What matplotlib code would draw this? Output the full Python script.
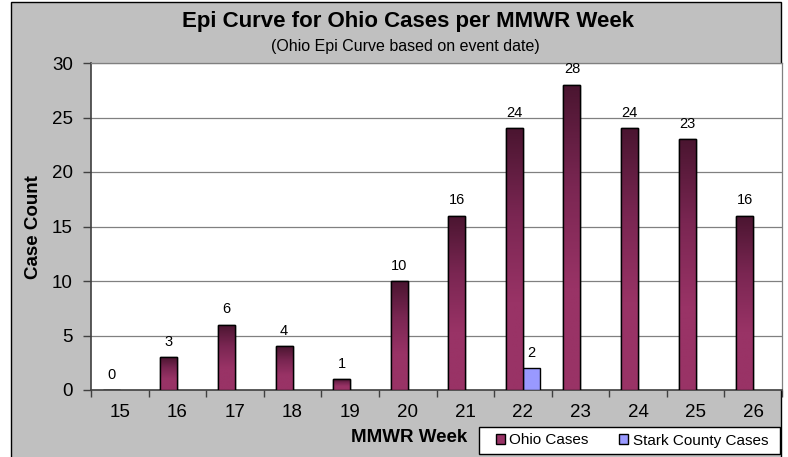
import numpy as np
import matplotlib
matplotlib.use("Agg")
import matplotlib.pyplot as plt
from matplotlib.patches import Rectangle
from matplotlib.colors import LinearSegmentedColormap

weeks = ["15", "16", "17", "18", "19", "20", "21", "22", "23", "24", "25", "26"]
ohio_cases = [0, 3, 6, 4, 1, 10, 16, 24, 28, 24, 23, 16]
stark_cases = [np.nan, np.nan, np.nan, np.nan, np.nan, np.nan, np.nan, 2, np.nan, np.nan, np.nan, np.nan]

plt.rcParams['font.family'] = ["Liberation Sans", "DejaVu Sans"]

W, H = 788, 457
fig = plt.figure(figsize=(W / 100, H / 100), dpi=100)
fig.patch.set_facecolor("white")
# chart frame
fig.patches.append(Rectangle((11 / W, -0.05), (781 - 11) / W, 1.05 - 2 / H,
                             transform=fig.transFigure, facecolor="#C0C0C0",
                             edgecolor="black", linewidth=1.0, zorder=-5))
# legend box
fig.patches.append(Rectangle((479 / W, 1 - 454 / H), 301 / W, 27 / H,
                             transform=fig.transFigure, facecolor="white",
                             edgecolor="black", linewidth=1.0, zorder=-4))

ax = fig.add_axes([91 / W, 1 - 390 / H, (782 - 91) / W, (390 - 63) / H])
ax.set_zorder(2)
ax.set_facecolor("white")
x = np.arange(len(weeks))
bw = 0.295

cmap = LinearSegmentedColormap.from_list("g", ["#4A1530", "#7A2652", "#993366", "#993366"])
grad = np.linspace(0, 1, 256).reshape(-1, 1)

ohio_bars = ax.bar(x - bw / 2, ohio_cases, bw, color="#993366", edgecolor="black",
                   linewidth=1.0, zorder=3, label="Ohio Cases")
for b, v in zip(ohio_bars, ohio_cases):
    if v <= 0:
        continue
    im = ax.imshow(grad, cmap=cmap, aspect="auto", origin="upper",
                   extent=(b.get_x(), b.get_x() + b.get_width(), 0, v), zorder=3.5)
    im.set_clip_path(b)
    ax.add_patch(Rectangle((b.get_x(), 0), b.get_width(), v, fill=False,
                           edgecolor="black", linewidth=1.0, zorder=4))
stark_bars = ax.bar(x + bw / 2, stark_cases, bw, color="#9999FF", edgecolor="black",
                    linewidth=1.0, zorder=3, label="Stark County Cases")
ax.set_xlim(-0.5, len(weeks) - 0.5)
ax.set_ylim(0, 30)

for xi, v in zip(x, ohio_cases):
    ax.annotate(str(v), (xi - bw / 2, v), xytext=(0, 6), textcoords="offset points",
                ha="center", va="bottom", fontsize=10.5, color="black", zorder=5)
for xi, v in zip(x, stark_cases):
    if not np.isnan(v):
        ax.annotate(str(int(v)), (xi + bw / 2, v), xytext=(0, 6), textcoords="offset points",
                    ha="center", va="bottom", fontsize=10.5, color="black", zorder=5)

ax.set_yticks(np.arange(0, 31, 5))
ax.yaxis.grid(True, color="#808080", linewidth=0.9, zorder=0)
ax.set_axisbelow(True)
ax.set_xticks(x)
ax.set_xticklabels(weeks, fontsize=13.5)
ax.set_xticks(np.arange(-0.5, len(weeks), 1), minor=True)
ax.tick_params(axis="x", which="major", length=0, pad=10)
ax.tick_params(axis="x", which="minor", length=5, width=1, color="#404040", direction="out")
ax.tick_params(axis="y", labelsize=13.5, length=6, width=1, color="#404040", pad=7)
for s in ["left", "bottom"]:
    ax.spines[s].set_color("#404040")
    ax.spines[s].set_linewidth(1.2)
for s in ["top", "right"]:
    ax.spines[s].set_color("#808080")
    ax.spines[s].set_linewidth(0.9)

fig.text(408 / W, 1 - 22 / H, "Epi Curve for Ohio Cases per MMWR Week", ha="center",
         va="center", fontsize=16, fontweight="bold")
fig.text(405 / W, 1 - 47 / H, "(Ohio Epi Curve based on event date)", ha="center",
         va="center", fontsize=11.5)
fig.text(33 / W, 1 - 227 / H, "Case Count", rotation=90, ha="center", va="center",
         fontsize=13.5, fontweight="bold")
fig.text(467 / W, 1 - 438 / H, "MMWR Week", ha="right", va="center",
         fontsize=13.5, fontweight="bold")

h1 = plt.Rectangle((0, 0), 1, 1, facecolor="#993366", edgecolor="black", linewidth=1.0)
h2 = plt.Rectangle((0, 0), 1, 1, facecolor="#9999FF", edgecolor="black", linewidth=1.0)
leg = fig.legend([h1, h2], ["Ohio Cases", "Stark County Cases"], ncol=2,
                 loc="center", bbox_to_anchor=(632 / W, 1 - 440.5 / H),
                 fontsize=11, frameon=False, handlelength=0.6, handleheight=0.6,
                 handletextpad=0.3, columnspacing=2.0, borderpad=0, borderaxespad=0)

fig.savefig("out.png", dpi=100)
